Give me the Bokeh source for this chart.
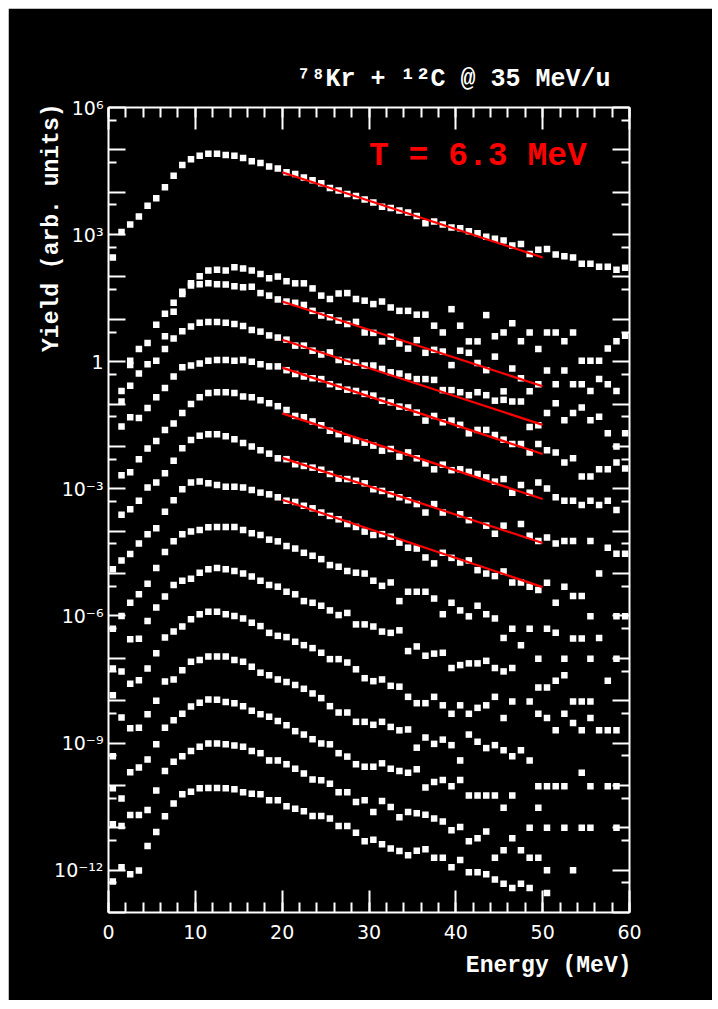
import math
from bokeh.plotting import figure
from bokeh.layouts import column, row
from bokeh.models import (Range1d, FixedTicker, LogAxis, LinearAxis,
                          SingleIntervalTicker, Label, Title, Spacer)
from bokeh.embed import file_html
from bokeh.resources import INLINE

# bin centres (MeV)
energy = [k + 0.5 for k in range(60)]

# log10(yield), one list per curve (None = no point)
s0 = [2.46, 3.06, 3.24, 3.43, 3.68, 3.86, 4.12, 4.39, 4.64, 4.78,
      4.86, 4.91, 4.91, 4.88, 4.86, 4.81, 4.73, 4.69, 4.61, 4.56,
      4.47, 4.43, 4.35, 4.28, 4.21, 4.10, 4.04, 3.96, 3.91, 3.83,
      3.76, 3.66, 3.63, 3.57, 3.52, 3.44, 3.27, 3.31, 3.24, 3.17,
      3.15, 3.08, 3.03, 2.95, 2.90, 2.86, 2.74, 2.78, 2.54, 2.64,
      2.66, 2.53, 2.49, 2.46, 2.31, 2.31, 2.24, 2.24, 2.17, 2.22]
s1 = [None, None, 0.02, 0.30, 0.44, 0.87, 1.13, 1.39, 1.65, 1.85,
      2.02, 2.15, 2.17, 2.15, 2.23, 2.20, 2.15, 2.07, 1.97, 2.01,
      1.90, 1.85, 1.85, 1.73, 1.56, 1.48, 1.61, 1.62, 1.48, 1.44,
      1.36, 1.42, 1.28, 1.20, 1.20, 1.11, 1.11, 0.85, 0.69, 1.24,
      0.85, 0.48, 0.48, 1.10, 0.60, 0.69, 0.91, 0.48, 0.69, 0.30,
      0.69, 0.69, 0.48, 0.69, 0.02, 0.02, 0.02, 0.31, 0.48, 0.61]
s2 = [None, -0.69, -0.08, -0.28, -0.06, None, 0.60, 1.18, 1.60, 1.80,
      1.83, 1.85, 1.83, 1.82, 1.78, 1.76, 1.77, 1.62, 1.56, 1.47,
      1.42, 1.39, 1.34, 1.20, 1.09, 1.05, 0.97, 0.89, 0.94, 0.69,
      0.68, 0.48, 0.59, 0.43, 0.31, 0.51, 0.21, 0.28, 0.24, -0.08,
      0.26, 0.21, -0.03, -0.20, 0.12, -0.70, -0.16, -0.39, -0.70, -0.53,
      -0.21, -0.53, -0.21, -0.53, -0.53, -0.69, -0.41, -0.53, -0.69, None]
s3 = [None, -0.94, -0.57, None, None, 0.02, 0.30, 0.55, 0.72, 0.83,
      0.92, 0.94, 0.94, 0.92, 0.89, 0.84, 0.75, 0.71, 0.62, 0.57,
      0.52, 0.38, 0.38, 0.26, 0.17, 0.22, 0.04, 0.00, -0.02, -0.09,
      -0.09, -0.17, -0.25, -0.28, -0.35, -0.41, -0.41, -0.43, -0.67, -0.67,
      -0.72, -0.79, -0.72, -0.79, -0.92, -0.90, -0.94, -0.94, -1.54, -1.50,
      -1.21, -0.98, -1.38, -1.21, -1.08, -1.38, -1.30, -1.69, -2.00, -1.69]
s4 = [None, -1.53, -1.31, -1.33, -1.09, -0.84, -0.62, -0.35, -0.13, -0.09,
      -0.04, 0.02, 0.04, 0.04, 0.02, 0.04, 0.00, -0.06, -0.11, -0.11,
      -0.20, -0.29, -0.35, -0.39, -0.41, -0.53, -0.59, -0.66, -0.69, -0.76,
      -0.80, -0.92, -0.96, -1.06, -1.08, -1.20, -1.39, -1.28, -1.43, -1.39,
      -1.49, -1.69, -1.61, -1.61, -1.73, -1.84, -1.94, -1.94, -2.14, -1.94,
      -2.09, -2.14, -2.38, -2.28, -2.71, -2.71, -2.54, -2.54, -2.38, -2.52]
s5 = [None, -2.68, -2.61, -2.30, -2.05, -1.87, -1.61, -1.46, -1.21, -1.00,
      -0.84, -0.74, -0.72, -0.72, -0.74, -0.82, -0.84, -0.91, -0.98, -1.05,
      -1.14, -1.28, -1.31, -1.41, -1.50, -1.63, -1.71, -1.83, -1.87, -1.91,
      -1.98, -2.10, -2.06, -2.24, -2.14, -2.28, -2.40, -2.54, -2.43, -2.56,
      -2.54, -2.60, -2.65, -2.73, -2.83, -2.77, -3.09, -2.91, -3.09, -2.85,
      -2.99, -3.20, -3.28, -3.28, -3.38, -3.28, -3.38, -3.28, -3.50, None]
s6 = [None, -3.61, -3.48, -3.28, -2.97, -2.85, -2.63, -2.34, -2.04, -1.85,
      -1.75, -1.71, -1.71, -1.76, -1.83, -1.92, -2.00, -2.09, -2.17, -2.28,
      -2.30, -2.42, -2.46, -2.50, -2.55, -2.65, -2.76, -2.77, -2.81, -2.87,
      -3.01, -3.05, -3.13, -3.20, -3.27, -3.36, -3.56, -3.36, -3.56, None,
      -3.60, -3.74, None, -3.87, -4.06, -3.87, None, -3.83, -4.11, -4.23,
      -4.15, -4.29, -4.23, -4.23, None, -4.23, None, -4.39, -4.53, -4.53]
s7 = [-4.90, -4.69, -4.54, -4.29, -4.07, -3.93, -3.54, -3.27, -3.01, -2.85,
      -2.83, -2.87, -2.91, -2.95, -2.95, -2.97, -3.03, -3.09, -3.13, -3.20,
      -3.28, -3.31, -3.40, -3.46, -3.56, -3.64, -3.72, -3.83, -3.90, -4.01,
      -4.09, -4.07, -4.13, -4.27, -4.39, -4.41, -4.62, -4.76, -4.51, -4.63,
      -4.74, -4.69, -4.92, -5.00, -5.06, -4.95, -5.21, -5.21, -5.31, -5.39,
      -5.22, -5.69, -5.31, -5.53, -5.53, -6.01, -5.00, None, -6.01, -6.01]
s8 = [-6.30, -6.00, -5.69, -5.49, -5.24, -4.87, -4.49, -4.24, -4.07, -4.01,
      -3.97, -3.91, -3.90, -3.90, -3.90, -3.97, -4.05, -4.09, -4.20, -4.24,
      -4.35, -4.41, -4.51, -4.58, -4.66, -4.80, -4.84, -4.94, -4.98, -5.00,
      -5.17, -5.29, -5.21, -5.65, -5.43, -5.43, -5.43, -5.59, -5.96, -5.69,
      -5.87, -6.01, -5.76, -5.96, -6.06, -6.52, -6.30, -6.69, -6.30, -7.01,
      -6.30, -6.40, -7.01, -6.53, -6.53, -7.01, -6.52, -7.53, -7.01, None]
s9 = [-7.24, -7.31, -6.55, -6.54, -6.12, -5.80, -5.54, -5.27, -5.17, -5.12,
      -4.98, -4.90, -4.87, -4.90, -4.94, -5.00, -5.07, -5.17, -5.27, -5.31,
      -5.43, -5.49, -5.65, -5.69, -5.76, -5.87, -5.98, -5.93, -6.20, -6.20,
      -6.25, -6.37, -6.40, -6.34, -6.83, -6.72, -6.94, -6.89, -6.87, -7.23,
      -7.16, -7.12, -7.12, -7.06, -7.23, -7.31, -7.23, None, None, -7.69,
      -7.69, -7.53, -7.40, -8.02, -8.02, -8.02, None, None, None, None]
s10 = [-7.87, -8.40, -7.60, -7.52, -7.24, -6.88, -6.51, -6.37, -6.25, -6.08,
       -5.96, -5.90, -5.90, -5.96, -6.00, -6.06, -6.16, -6.24, -6.40, -6.47,
       -6.50, -6.61, -6.69, -6.76, -6.87, -7.02, -7.02, -7.10, -7.26, -7.47,
       -7.54, -7.50, -7.65, -7.67, -7.91, -8.06, -8.06, -7.91, -8.11, -8.31,
       -8.11, -8.31, -8.17, -8.11, -7.91, -8.41, -8.02, None, -8.02, -8.31,
       -8.41, -8.70, -8.31, -8.53, -8.70, -8.41, -8.70, -8.70, -8.70, None]
s11 = [-9.31, None, -8.65, -8.64, -8.32, -8.00, -7.55, -7.50, -7.28, -7.08,
       -7.04, -6.96, -6.96, -6.96, -7.04, -7.08, -7.20, -7.34, -7.40, -7.50,
       -7.56, -7.63, -7.72, -7.83, -7.94, -8.13, -8.28, -8.28, -8.50, -8.50,
       -8.57, -8.50, -8.62, -8.70, -8.68, -9.11, -8.87, -9.02, -8.92, -9.05,
       -9.41, -8.80, -8.97, -9.12, -9.05, -9.17, -9.31, -9.17, -9.41, -10.02,
       -10.02, -10.02, -10.02, None, -9.70, -10.02, None, -10.02, -10.02, None]
s12 = [-10.07, -10.31, -9.69, -9.58, -9.39, -9.03, -8.64, -8.46, -8.31, -8.14,
       -8.05, -7.97, -7.98, -8.03, -8.06, -8.13, -8.24, -8.32, -8.38, -8.48,
       -8.58, -8.72, -8.80, -8.91, -9.01, -9.03, -9.24, -9.32, -9.50, -9.56,
       -9.56, -9.48, -9.61, -9.66, -9.70, -9.62, -10.05, -9.92, -9.87, -10.02,
       -9.87, -10.24, -10.24, -10.24, -10.24, -10.53, -10.24, None, -11.00, -10.53,
       -11.00, None, -11.00, None, -11.00, -11.00, None, None, -11.00, None]
s13 = [-10.92, -10.96, -10.70, -10.70, -10.58, -10.12, -9.66, -9.44, -9.31, -9.19,
       -9.09, -9.01, -9.01, -9.03, -9.06, -9.09, -9.19, -9.24, -9.41, -9.41,
       -9.50, -9.61, -9.72, -9.86, -9.88, -9.96, -10.16, -10.16, -10.39, -10.35,
       -10.63, -10.37, -10.51, -10.75, -10.63, -10.66, -10.69, -10.78, -10.85, -11.06,
       -10.98, -11.32, -11.25, -11.09, -11.71, -11.53, -11.25, -11.53, -11.71, -11.71,
       -12.00, None, None, -12.00, None, None, None, None, None, None]
s14 = [-12.27, -11.93, -12.10, -12.01, -11.43, -11.10, -10.73, -10.43, -10.21, -10.15,
       -10.07, -10.06, -10.06, -10.07, -10.09, -10.16, -10.20, -10.21, -10.35, -10.35,
       -10.49, -10.55, -10.61, -10.72, -10.72, -10.78, -10.96, -10.96, -11.12, -11.32,
       -11.28, -11.39, -11.49, -11.55, -11.65, -11.54, -11.51, -11.71, -11.71, -11.93,
       -11.76, -12.05, -12.05, -12.10, -12.22, -12.32, -12.42, -12.32, -12.42, None,
       -12.54, None, None, None, None, None, None, None, None, None]

series = [s0, s1, s2, s3, s4, s5, s6, s7, s8, s9, s10, s11, s12, s13, s14]

# exponential fits (T = 6.3 MeV), log10 yield at the two ends
fit_energy = [20, 50]
fit_log_start = [4.47, 1.42, 0.52, -0.14, -1.22, -2.27, -3.26]
fit_log_end = [2.46, -0.58, -1.49, -2.18, -3.24, -4.28, -5.32]

y_decades = list(range(-13, 7))
y_labels = {6: "10\u2076", 3: "10\u00b3", 0: "1", -3: "10\u207b\u00b3",
            -6: "10\u207b\u2076", -9: "10\u207b\u2079", -12: "10\u207b\u00b9\u00b2"}

W, H = 704, 992
p = figure(width=W, height=H, x_range=Range1d(0, 60), y_range=Range1d(1e-13, 1e6),
           y_axis_type="log", output_backend="svg", toolbar_location=None,
           background_fill_color="black", border_fill_color="black",
           outline_line_color=None, min_border_left=100, min_border_right=83,
           min_border_top=99, min_border_bottom=88)
p.xgrid.visible = False
p.ygrid.visible = False

yticks = [10.0 ** d for d in y_decades]
yminor = [5 * 10.0 ** d for d in range(-14, 6)]
overrides = {}
for d, t in zip(y_decades, yticks):
    overrides[t] = y_labels.get(d, "")


def style_axis(ax, major_in, minor_in, show_labels):
    ax.axis_line_color = "white"
    ax.axis_line_width = 2
    ax.major_tick_line_color = "white"
    ax.major_tick_line_width = 2
    ax.minor_tick_line_color = "white"
    ax.minor_tick_line_width = 2
    ax.major_tick_in = major_in
    ax.major_tick_out = 0
    ax.minor_tick_in = minor_in
    ax.minor_tick_out = 0
    if show_labels:
        ax.major_label_text_color = "white"
        ax.major_label_text_font = "DejaVu Sans"
        ax.major_label_text_font_size = "19px"
    else:
        ax.major_label_text_font_size = "0px"
        ax.major_label_text_color = None
        ax.major_label_standoff = 0


mono = "Liberation Mono"

xa = p.xaxis[0]
xa.ticker = SingleIntervalTicker(interval=10, num_minor_ticks=5)
style_axis(xa, 22, 10, True)
xa.major_label_standoff = 12

ya = p.yaxis[0]
ya.ticker = FixedTicker(ticks=yticks, minor_ticks=yminor)
ya.major_label_overrides = overrides
style_axis(ya, 17, 8, True)
ya.major_label_standoff = 5

ra = LogAxis(ticker=FixedTicker(ticks=yticks, minor_ticks=yminor))
style_axis(ra, 17, 8, False)
p.add_layout(ra, "right")

ta = LinearAxis(ticker=SingleIntervalTicker(interval=10, num_minor_ticks=5))
style_axis(ta, 22, 10, False)
p.add_layout(ta, "above")

for s in series:
    xs = [e for e, v in zip(energy, s) if v is not None]
    ys = [10.0 ** v for v in s if v is not None]
    p.scatter(xs, ys, marker="square", size=6.5, fill_color="white",
              line_color="white", line_width=0)

for a, b in zip(fit_log_start, fit_log_end):
    p.line(fit_energy, [10.0 ** a, 10.0 ** b], line_color="#ff0000", line_width=2.2)

# texts outside the frame as titles
p.add_layout(Title(text="\u2077\u2078Kr + \u00b9\u00b2C @ 35 MeV/u", align="right",
                   offset=19, standoff=27, text_font=mono, text_font_style="bold",
                   text_font_size="25px", text_color="white"), "above")
p.add_layout(Title(text="Energy (MeV)", align="right", offset=-2, standoff=22,
                   vertical_align="top", text_font=mono, text_font_style="bold",
                   text_font_size="23px", text_color="white"), "below")
p.add_layout(Title(text="Yield (arb. units)", align="right", offset=-4, standoff=-26,
                   text_font=mono, text_font_style="bold",
                   text_font_size="23px", text_color="white"), "left")

p.add_layout(Label(x=30.0, y=10 ** 4.85, text="T = 6.3 MeV", text_align="left",
                   text_baseline="alphabetic", text_font=mono, text_font_style="bold",
                   text_font_size="33px", text_color="#ff0000"))

page = column(Spacer(height=8), row(Spacer(width=8), p))
open("out.html", "w").write(file_html(page, INLINE))
